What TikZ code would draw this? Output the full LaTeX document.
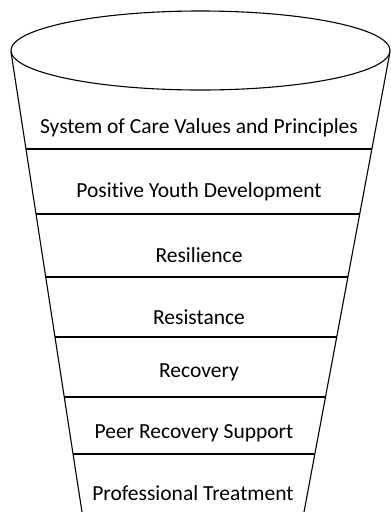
\documentclass[tikz,border=0pt]{standalone}
\usepackage{fontspec}
\setmainfont[Ligatures=NoCommon]{Carlito}
\usetikzlibrary{calc}
\begin{document}
\begin{tikzpicture}[x=1pt,y=-1pt,
  edge/.style={line width=1.1pt,black},
  label/.style={font=\fontsize{21.5}{24}\selectfont,inner sep=0pt,anchor=center}]
\useasboundingbox (0,0) rectangle (391,512);
\coordinate (TL) at (11,52);
\coordinate (BL) at (82,512);
\coordinate (TR) at (390,52);
\coordinate (BR) at (304,512);
\draw[edge] (200.5,50.5) ellipse [x radius=189.5,y radius=39.5];
\draw[edge] (TL) -- (BL);
\draw[edge] (TR) -- (BR);
\foreach \yy [count=\i] in {149,214,277,337,397,454}{
  \pgfmathsetmacro{\myfrac}{(\yy-52)/460}
  \coordinate (l\i) at ($(TL)!\myfrac!(BL)$);
  \coordinate (r\i) at ($(TR)!\myfrac!(BR)$);
  \draw[edge] (l\i) -- (r\i);
}
\node[label] (t1) at (199,128) {System of Care Values and Principles};
\node[label] (t2) at (199,192) {Positive Youth Development};
\node[label] (t3) at (199,255) {Resilience};
\node[label] (t4) at (199,317) {Resistance};
\node[label] (t5) at (199,372) {Recovery};
\node[label] (t6) at (194,433) {Peer Recovery Support};
\node[label] (t7) at (193,493) {Professional Treatment};
\end{tikzpicture}
\end{document}
